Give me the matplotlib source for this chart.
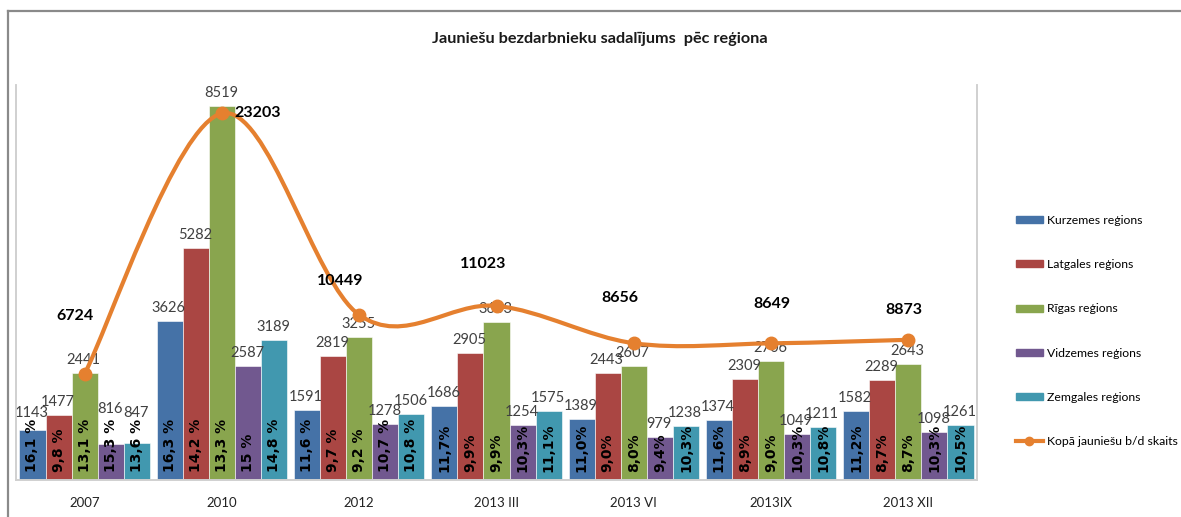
import matplotlib
matplotlib.use("Agg")
import matplotlib.pyplot as plt
import numpy as np
from matplotlib.path import Path
from matplotlib.patches import PathPatch
from matplotlib.lines import Line2D

categories = ["2007", "2010", "2012", "2013 III", "2013 VI", "2013IX", "2013 XII"]
regions = ["Kurzemes reģions", "Latgales reģions", "Rīgas reģions",
           "Vidzemes reģions", "Zemgales reģions"]
kurzeme = [1143, 3626, 1591, 1686, 1389, 1374, 1582]
latgale = [1477, 5282, 2819, 2905, 2443, 2309, 2289]
riga = [2441, 8519, 3255, 3603, 2607, 2706, 2643]
vidzeme = [816, 2587, 1278, 1254, 979, 1049, 1098]
zemgale = [847, 3189, 1506, 1575, 1238, 1211, 1261]
total = [6724, 23203, 10449, 11023, 8656, 8649, 8873]
total_label = "Kopā jauniešu b/d skaits"

pct_kurzeme = ["16,1 %", "16,3 %", "11,6 %", "11,7%", "11,0%", "11,6%", "11,2%"]
pct_latgale = ["9,8 %", "14,2 %", "9,7 %", "9,9%", "9,0%", "8,9%", "8,7%"]
pct_riga = ["13,1 %", "13,3 %", "9,2 %", "9,9%", "8,0%", "9,0%", "8,7%"]
pct_vidzeme = ["15,3 %", "15 %", "10,7 %", "10,3%", "9,4%", "10,3%", "10,3%"]
pct_zemgale = ["13,6 %", "14,8 %", "10,8 %", "11,1%", "10,3%", "10,8%", "10,5%"]

series = [kurzeme, latgale, riga, vidzeme, zemgale]
pcts = [pct_kurzeme, pct_latgale, pct_riga, pct_vidzeme, pct_zemgale]
colors = ["#4572A7", "#AA4643", "#89A54E", "#71588F", "#4198AF"]
line_color = "#E5802F"
# label offsets for the total line (pixels)
total_offsets = [(-10, 58), (36, 0), (-19, 34), (-13, 42), (-14, 45), (1, 39), (-4, 30)]
# a few value labels sit higher to clear the percent text (series, category): pixels
label_lift = {(3, 0): 22, (4, 0): 17, (0, 0): 4}

FONT = ["Lato", "DejaVu Sans"]
plt.rcParams["font.family"] = FONT

fig = plt.figure(figsize=(11.81, 5.17), dpi=100)
W, H = 1181, 517
ax = fig.add_axes([16 / W, 1 - 480 / H, (977 - 16) / W, (480 - 85) / H])
ax2 = ax.twinx()

x = np.arange(len(categories))
bw = 0.19
for i, (vals, col, pc) in enumerate(zip(series, colors, pcts)):
    xs = x + (i - 2) * bw
    ax.bar(xs, vals, bw, color=col, edgecolor="white", linewidth=0.4,
           label=regions[i], zorder=2)
    for j, (xx, v, t) in enumerate(zip(xs, vals, pc)):
        ax.annotate(str(v), (xx, v), xytext=(-1, 6 + label_lift.get((i, j), 0)),
                    textcoords="offset pixels", ha="center", va="bottom",
                    fontsize=10.5, color="#404040", zorder=5)
        ax.annotate(t, (xx, 0), xytext=(0, 8), textcoords="offset pixels",
                    rotation=90, ha="center", va="bottom", fontsize=10,
                    fontweight="bold", family="DejaVu Sans", color="black", zorder=6)

ax.set_xlim(-0.5, len(categories) - 0.5)
ax.set_ylim(0, 9000)
ax2.set_ylim(0, 25000)
ax.set_yticks([])
ax2.set_yticks([])
ax.set_xticks(x)
ax.set_xticklabels(categories, fontsize=9.5, color="#222222")
ax.tick_params(axis="x", length=0, pad=12)
for a in (ax, ax2):
    a.spines["top"].set_visible(False)
    for s in ("left", "right", "bottom"):
        a.spines[s].set_color("#D0D0D0")
        a.spines[s].set_linewidth(1.2)
ax.patch.set_visible(False)

# smoothed total line (Bezier through the points, like a spreadsheet "smoothed line")
ty = np.array(total, dtype=float)
pts = np.column_stack([x, ty])
ext = np.vstack([pts[0], pts, pts[-1]])
verts = [tuple(pts[0])]
codes = [Path.MOVETO]
for k in range(len(pts) - 1):
    p0, p1, p2, p3 = ext[k], ext[k + 1], ext[k + 2], ext[k + 3]
    c1 = p1 + (p2 - p0) / 6
    c2 = p2 - (p3 - p1) / 6
    verts += [tuple(c1), tuple(c2), tuple(p2)]
    codes += [Path.CURVE4] * 3
ax2.add_patch(PathPatch(Path(verts, codes), facecolor="none", edgecolor=line_color,
                        linewidth=3, zorder=3))
ax2.plot(x, ty, linestyle="none", marker="o", markersize=9, color=line_color, zorder=4)
for xx, v, off in zip(x, total, total_offsets):
    ax2.annotate(str(v), (xx, v), xytext=off, textcoords="offset pixels",
                 ha="center", va="center", fontsize=11.5, fontweight="bold",
                 color="black", zorder=7)

fig.text(600 / W, 1 - 39 / H, "Jauniešu bezdarbnieku sadalījums  pēc reģiona",
         ha="center", va="center", fontsize=11.7, fontweight="bold", color="#1a1a1a")

# outer frame
fig.add_artist(Line2D([8 / W, 1], [1 - 11 / H] * 2, color="#8a8a8a", lw=1.6,
                      transform=fig.transFigure))
fig.add_artist(Line2D([8 / W] * 2, [0, 1 - 11 / H], color="#8a8a8a", lw=1.6,
                      transform=fig.transFigure))

handles = [plt.Rectangle((0, 0), 1, 1, color=c) for c in colors]
handles.append(Line2D([], [], color=line_color, lw=3, marker="o", markersize=6))
fig.legend(handles, regions + [total_label], loc="upper left",
           bbox_to_anchor=(1005 / W, 1 - 204 / H), frameon=False, fontsize=8.8,
           labelspacing=2.72, handlelength=2.2, handleheight=0.5, handletextpad=0.3)

fig.savefig("out.png", dpi=100)
